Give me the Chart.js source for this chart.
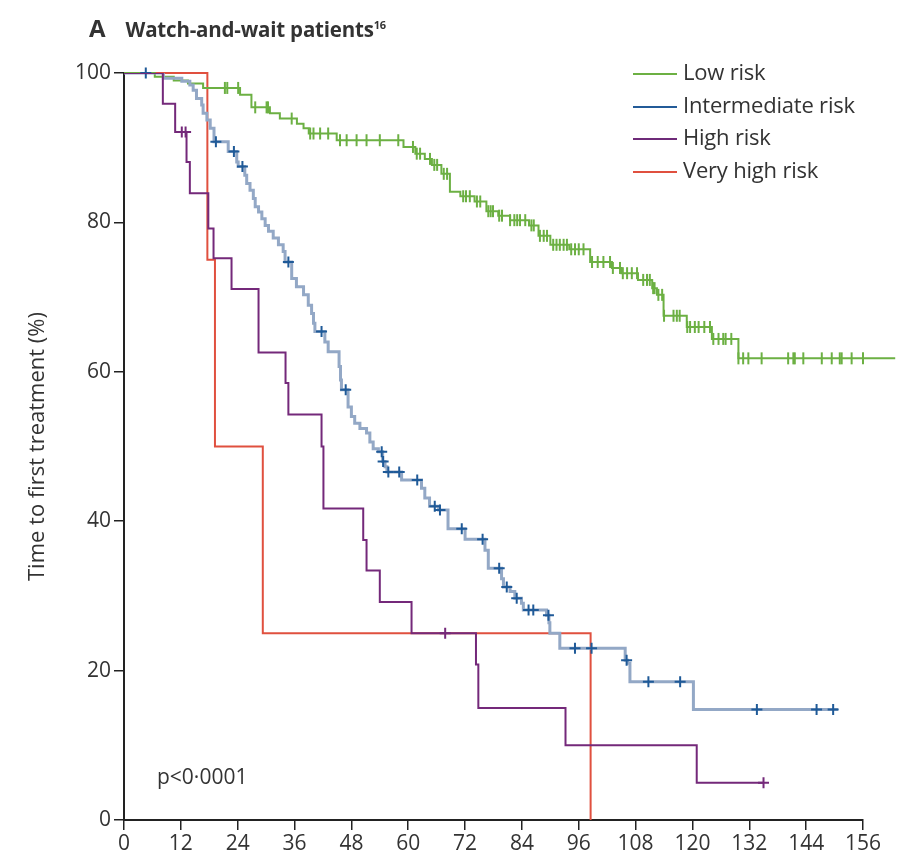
<!DOCTYPE html>
<html lang="en">
<head>
<meta charset="UTF-8">
<title>Watch-and-wait patients</title>
<script src="https://cdn.jsdelivr.net/npm/chart.js"></script>
<style>
  body { margin: 0; background: #fff; font-family: 'Open Sans', sans-serif; color: #333; }
  #wrap { position: relative; width: 897px; height: 858px; }
  canvas { position: absolute; left: 0; top: 0; }
  .title { position: absolute; left: 89px; top: 11px; font-weight: bold; white-space: nowrap; }
  .title .letter { font-size: 24px; margin-right: 20px; }
  .title .txt { font-size: 20.5px; letter-spacing: -0.2px; }
  .title sup { font-size: 11px; }
  .legend { position: absolute; left: 633px; top: 57px; font-size: 22px; }
  .legend div { height: 32.5px; line-height: 28px; white-space: nowrap; letter-spacing: -0.2px; }
  .legend span.sw { display: inline-block; width: 44px; height: 2px; vertical-align: middle; margin-right: 6px; }
  .pval { position: absolute; left: 157px; top: 762px; font-size: 21px; }
</style>
</head>
<body>
<div id="wrap">
  <canvas id="myChart" width="897" height="858"></canvas>
  <div class="title"><span class="letter">A</span><span class="txt">Watch-and-wait patients<sup>16</sup></span></div>
  <div class="legend">
    <div><span class="sw" style="background:#6cb043"></span>Low risk</div>
    <div><span class="sw" style="background:#235b98"></span>Intermediate risk</div>
    <div><span class="sw" style="background:#6e2a78"></span>High risk</div>
    <div><span class="sw" style="background:#e0503f"></span>Very high risk</div>
  </div>
  <div class="pval">p&lt;0·0001</div>
</div>
<script>
// tick labels
const xTicks = [0, 12, 24, 36, 48, 60, 72, 84, 96, 108, 120, 132, 144, 156];
const yTicks = [0, 20, 40, 60, 80, 100];

// low risk: step times (months) and % after each step, censor times
const lowTimes = [0, 6.5, 10.5, 13.5, 16.7, 24.5, 26.9, 30.8, 32.9, 36.5, 37.9, 39.0, 44.9, 59.0, 61.5, 63.5, 65.0, 67.0, 68.8, 71.0, 74.0, 76.5, 79.0, 81.5, 85.5, 87.5, 90.0, 94.0, 98.4, 103.0, 105.0, 108.5, 111.5, 112.5, 113.9, 118.8, 124.1, 129.7, 162.8];
const lowSurv = [100, 99.5, 99.0, 98.6, 98.0, 97.1, 95.4, 94.6, 93.9, 93.2, 92.6, 91.9, 91.0, 90.1, 89.2, 88.5, 87.7, 86.5, 84.1, 83.5, 82.8, 81.5, 80.9, 80.3, 79.6, 78.2, 77.0, 76.4, 74.7, 73.9, 73.2, 72.3, 71.2, 70.3, 67.5, 66.0, 64.4, 61.8, 61.8];
const lowCensor = [21.3, 21.8, 24.1, 27.7, 30.1, 30.4, 35.4, 39.3, 40.0, 41.4, 43.1, 45.6, 47.0, 49.1, 51.2, 54.0, 57.9, 61.0, 61.8, 62.5, 64.6, 65.5, 66.1, 67.5, 68.2, 71.6, 72.2, 73.0, 74.5, 75.2, 76.9, 77.4, 77.9, 79.2, 79.8, 81.5, 82.4, 83.0, 83.6, 84.7, 86.0, 86.5, 87.8, 88.6, 89.3, 90.6, 91.3, 92.0, 92.8, 93.5, 94.4, 95.2, 96.0, 97.0, 98.8, 100.0, 101.2, 102.6, 103.2, 104.7, 105.3, 106.2, 107.2, 108.3, 109.6, 110.4, 111.0, 111.7, 112.0, 112.8, 113.6, 114.0, 116.0, 116.7, 117.3, 118.9, 119.5, 120.5, 121.3, 122.5, 123.7, 124.4, 125.5, 126.5, 127.0, 128.2, 129.7, 130.7, 131.8, 134.6, 140.2, 141.3, 141.6, 143.4, 147.3, 149.4, 151.1, 151.5, 153.6, 156.0, 158.2, 162.8];

// intermediate risk
const midTimes = [0, 8.3, 12.2, 13.9, 14.6, 15.3, 16.4, 16.7, 17.5, 18.2, 19.0, 22.0, 23.8, 24.1, 25.5, 25.9, 26.6, 27.3, 27.7, 28.4, 29.1, 29.8, 30.5, 31.5, 32.6, 33.6, 34.0, 35.4, 36.4, 37.9, 38.9, 39.6, 40.0, 40.3, 42.4, 43.1, 45.4, 45.7, 45.9, 47.3, 48.0, 48.7, 49.8, 51.2, 51.9, 52.6, 53.7, 54.6, 55.1, 55.5, 58.6, 62.8, 63.5, 64.5, 66.4, 68.4, 72.0, 76.2, 76.9, 79.7, 80.1, 81.5, 82.5, 83.9, 84.3, 89.2, 89.7, 89.9, 92.0, 105.8, 106.3, 106.8, 120.2, 150.7];
const midSurv = [100, 99.3, 98.9, 98.4, 97.7, 96.6, 95.7, 94.6, 93.7, 92.6, 90.8, 89.5, 88.1, 87.5, 86.3, 85.2, 84.3, 83.2, 82.1, 81.4, 80.5, 79.6, 78.8, 77.9, 77.0, 76.1, 74.7, 72.5, 71.4, 70.3, 68.9, 67.8, 66.5, 65.4, 64.0, 62.7, 60.7, 58.9, 57.6, 55.3, 54.0, 53.1, 52.4, 51.8, 50.6, 49.7, 49.3, 48.0, 47.3, 46.6, 45.5, 44.4, 43.1, 42.0, 41.5, 39.0, 37.6, 36.1, 33.7, 32.3, 31.2, 30.6, 29.7, 29.0, 28.1, 27.4, 26.4, 25.0, 23.0, 21.4, 21.0, 18.5, 14.8, 14.8];
const midCensor = [4.6, 19.4, 23.2, 25.0, 34.7, 41.7, 46.8, 54.4, 54.7, 55.8, 58.1, 61.9, 65.6, 66.7, 71.3, 75.7, 79.2, 80.8, 82.9, 85.4, 86.4, 89.6, 95.2, 98.7, 106.1, 110.7, 117.4, 133.6, 146.2, 149.7];

// high risk
const highTimes = [0, 8.2, 10.8, 13.2, 13.9, 17.8, 18.9, 22.7, 28.4, 34.1, 34.7, 41.7, 42.1, 50.5, 51.2, 54.0, 60.7, 74.3, 74.8, 93.2, 120.9, 135.0];
const highSurv = [100, 95.9, 92.1, 88.1, 83.9, 79.2, 75.2, 71.1, 62.6, 58.5, 54.3, 50.0, 41.7, 37.5, 33.4, 29.2, 25.0, 20.8, 15.0, 10.0, 5.0, 5.0];
const highCensor = [12.2, 13.0, 67.8, 135.0];

// very high risk
const vhighTimes = [0, 17.6, 19.2, 29.3, 98.5];
const vhighSurv = [100, 75, 50, 25, 0];

function steps(times, surv) {
  return times.map((t, i) => ({ x: t, y: surv[i] }));
}
function censorPts(times, surv, cens) {
  return cens.map(c => {
    let v = surv[0];
    for (let i = 0; i < times.length; i++) if (times[i] <= c) v = surv[i];
    return { x: c, y: v };
  });
}

const GREEN = '#6cb043', BLUE_LINE = '#93a8c6', BLUE = '#1f5a98', PURPLE = '#74297a', RED = '#e0503f';
const tickFont = { family: 'Open Sans', size: 21 };

const ctx = document.getElementById('myChart').getContext('2d');
new Chart(ctx, {
  type: 'line',
  data: {
    datasets: [
      { label: 'High risk censored', type: 'scatter', data: censorPts(highTimes, highSurv, highCensor),
        pointStyle: 'cross', pointRadius: 5.5, borderColor: PURPLE, borderWidth: 2, clip: false },
      { label: 'High risk', data: steps(highTimes, highSurv), stepped: true, borderColor: PURPLE, borderWidth: 2, pointRadius: 0 },
      { label: 'Intermediate risk censored', type: 'scatter', data: censorPts(midTimes, midSurv, midCensor),
        pointStyle: 'cross', pointRadius: 5.5, borderColor: BLUE, borderWidth: 2, clip: false },
      { label: 'Intermediate risk', data: steps(midTimes, midSurv), stepped: true, borderColor: BLUE_LINE, borderWidth: 3, pointRadius: 0 },
      { label: 'Low risk censored', type: 'scatter', data: censorPts(lowTimes, lowSurv, lowCensor),
        pointStyle: 'line', rotation: 90, pointRadius: 6, borderColor: GREEN, borderWidth: 2, clip: false },
      { label: 'Low risk', data: steps(lowTimes, lowSurv), stepped: true, borderColor: GREEN, borderWidth: 2, pointRadius: 0, clip: false },
      { label: 'Very high risk', data: steps(vhighTimes, vhighSurv), stepped: true, borderColor: RED, borderWidth: 2, pointRadius: 0, clip: false }
    ]
  },
  options: {
    responsive: false,
    animation: false,
    layout: { padding: { left: 0, top: 73, right: 34, bottom: 0 } },
    plugins: { legend: { display: false }, tooltip: { enabled: false } },
    scales: {
      x: {
        type: 'linear', min: 0, max: 156,
        afterFit: s => { s.height = 38; },
        afterBuildTicks: s => { s.ticks = xTicks.map(v => ({ value: v })); },
        ticks: { font: tickFont, color: '#333', padding: 1, maxRotation: 0, autoSkip: false },
        grid: { drawOnChartArea: false, tickLength: 10, color: '#222', lineWidth: 1.5 },
        border: { color: '#222', width: 2 }
      },
      y: {
        min: 0, max: 100,
        afterFit: s => { s.width = 124; },
        afterBuildTicks: s => { s.ticks = yTicks.map(v => ({ value: v })); },
        ticks: { font: tickFont, color: '#333', padding: 3 },
        grid: { drawOnChartArea: false, tickLength: 10, color: '#222', lineWidth: 1.5 },
        border: { color: '#222', width: 2 },
        title: { display: true, text: 'Time to first treatment (%)', font: { family: 'Open Sans', size: 22 }, color: '#333', padding: { top: 25, bottom: 0 } }
      }
    }
  }
});
</script>
</body>
</html>
